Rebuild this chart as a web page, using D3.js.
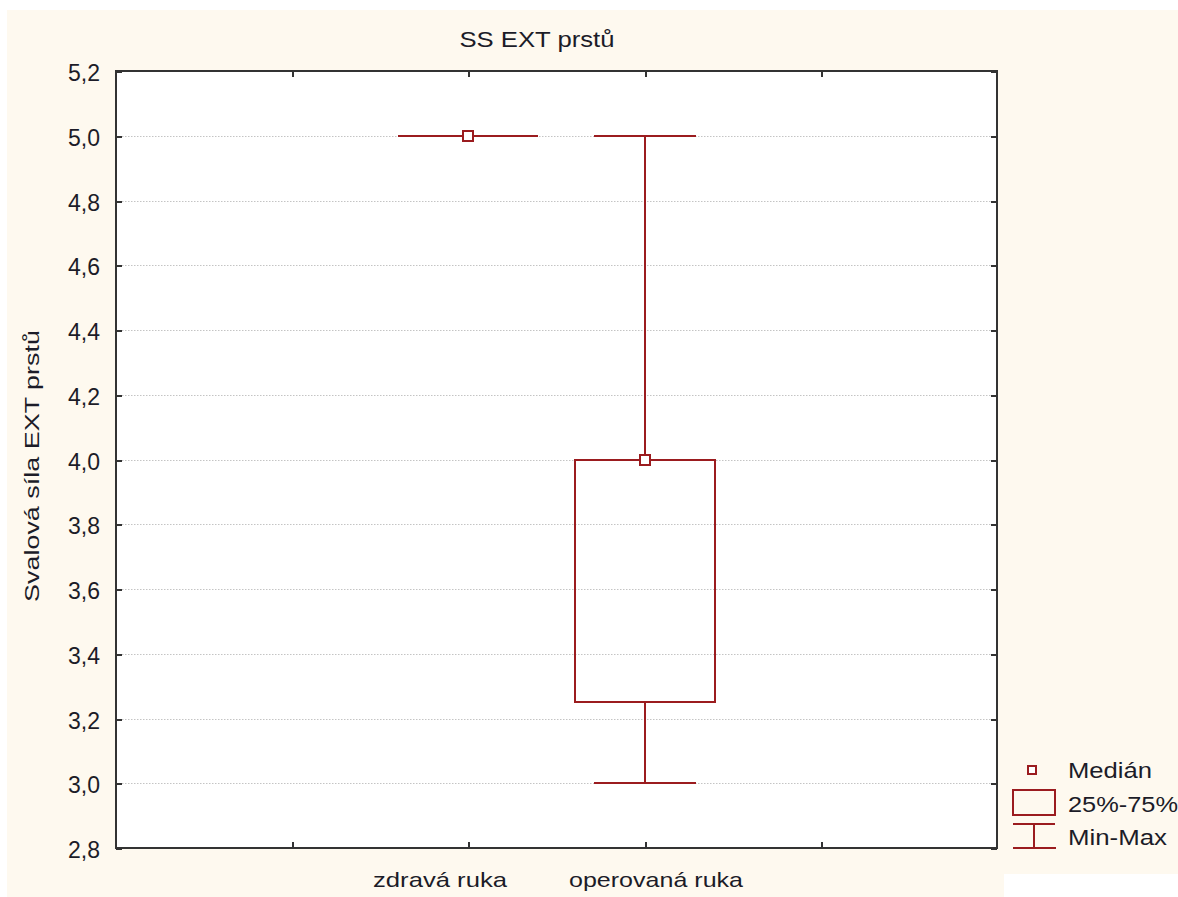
<!DOCTYPE html>
<html><head><meta charset="utf-8">
<script src="https://cdn.jsdelivr.net/npm/d3@7"></script>
<style>body{margin:0;background:#fff}svg{display:block}text{font-family:"Liberation Sans",Arial,sans-serif;fill:#1c1c28}</style>
</head><body>
<script>
// Data
const categories = ["zdravá ruka", "operovaná ruka"];
const minVals    = [5.0, 3.0];
const q1Vals     = [5.0, 3.25];
const medianVals = [5.0, 4.0];
const q3Vals     = [5.0, 4.0];
const maxVals    = [5.0, 5.0];
const yTicks = [2.8, 3.0, 3.2, 3.4, 3.6, 3.8, 4.0, 4.2, 4.4, 4.6, 4.8, 5.0, 5.2];
const title = "SS EXT prstů";
const yTitle = "Svalová síla EXT prstů";
const legendLabels = ["Medián", "25%-75%", "Min-Max"];

// Layout
const W = 1178, H = 897;
const L = 116, R = 997, T = 71, B = 848;
const red = "#9b1c1f";
const catPos = [2, 3];
const labelDx = [-28, 11];
const labelLen = [134, 174];

const svg = d3.select("body").append("svg").attr("width", W).attr("height", H);
svg.append("rect").attr("x", 7).attr("y", 10).attr("width", W - 7).attr("height", H - 10).attr("fill", "#fef9ef");
svg.append("rect").attr("x", 1004).attr("y", 874).attr("width", W - 1004).attr("height", H - 874).attr("fill", "#fff");

const x = d3.scaleLinear().domain([0, 5]).rangeRound([L, R]);
const y = d3.scaleLinear().domain([2.8, 5.2]).rangeRound([B, T]);

svg.append("rect").attr("x", L).attr("y", T).attr("width", R - L).attr("height", B - T).attr("fill", "#fff");

// grid
svg.append("g").selectAll("line").data(yTicks.filter(v => v > 2.8 && v < 5.2)).join("line")
  .attr("x1", L).attr("x2", R).attr("y1", d => y(d) + 0.5).attr("y2", d => y(d) + 0.5)
  .attr("stroke", "#c4c4c4").attr("stroke-width", 1).attr("stroke-dasharray", "1.5,1.5");

const fmt = d => d3.format(".1f")(d).replace(".", ",");
// axes
const gL = svg.append("g").attr("transform", `translate(${L},0)`)
  .call(d3.axisRight(y).tickValues(yTicks).tickSize(6).tickFormat(""));
const gR = svg.append("g").attr("transform", `translate(${R},0)`)
  .call(d3.axisLeft(y).tickValues(yTicks).tickSize(6).tickFormat(""));
const gB = svg.append("g").attr("transform", `translate(0,${B})`)
  .call(d3.axisTop(x).tickValues([1, 2, 3, 4]).tickSize(6).tickFormat(""));
const gT = svg.append("g").attr("transform", `translate(0,${T})`)
  .call(d3.axisBottom(x).tickValues([1, 2, 3, 4]).tickSize(6).tickFormat(""));
[gL, gR, gB, gT].forEach(g => {
  g.select(".domain").remove();
  g.selectAll(".tick").attr("transform", function() {
    const t = d3.select(this).attr("transform");
    return t.replace(/translate\(([-\d.]+),([-\d.]+)\)/, (m, a, b) => `translate(${Math.round(+a)},${Math.round(+b)})`);
  });
  g.selectAll(".tick line").attr("stroke", "#333").attr("stroke-width", 2);
});
svg.append("rect").attr("x", L).attr("y", T).attr("width", R - L).attr("height", B - T)
  .attr("fill", "none").attr("stroke", "#333").attr("stroke-width", 2);

// y tick labels
svg.append("g").selectAll("text").data(yTicks).join("text")
  .attr("x", 100).attr("y", d => y(d) + 10).attr("text-anchor", "end")
  .attr("font-size", 23).text(fmt);

// boxes
const boxHalf = 70, capHalf = 51;
const g = svg.append("g").attr("fill", "none").attr("stroke", red).attr("stroke-width", 2);
categories.forEach((c, i) => {
  const cx = x(catPos[i]);
  // whisker vertical lines
  g.append("line").attr("x1", cx).attr("x2", cx).attr("y1", y(maxVals[i])).attr("y2", y(q3Vals[i]));
  g.append("line").attr("x1", cx).attr("x2", cx).attr("y1", y(q1Vals[i])).attr("y2", y(minVals[i]));
  // caps
  g.append("line").attr("x1", cx - capHalf).attr("x2", cx + capHalf).attr("y1", y(maxVals[i])).attr("y2", y(maxVals[i]));
  g.append("line").attr("x1", cx - capHalf).attr("x2", cx + capHalf).attr("y1", y(minVals[i])).attr("y2", y(minVals[i]));
  // box
  if (q3Vals[i] === q1Vals[i]) {
    g.append("line").attr("x1", cx - boxHalf).attr("x2", cx + boxHalf).attr("y1", y(q3Vals[i])).attr("y2", y(q3Vals[i]));
  } else {
    g.append("rect").attr("x", cx - boxHalf).attr("y", y(q3Vals[i])).attr("width", 2 * boxHalf).attr("height", y(q1Vals[i]) - y(q3Vals[i]));
  }
  // median
  g.append("rect").attr("x", cx - 5).attr("y", y(medianVals[i]) - 5).attr("width", 10).attr("height", 10).attr("fill", "#fff");
  // label
  svg.append("text").attr("x", cx + labelDx[i]).attr("y", 887).attr("text-anchor", "middle")
    .attr("font-size", 21).attr("textLength", labelLen[i]).attr("lengthAdjust", "spacingAndGlyphs").text(c);
});

// title
svg.append("text").attr("x", 537).attr("y", 47).attr("text-anchor", "middle").attr("font-size", 22)
  .attr("textLength", 155).attr("lengthAdjust", "spacingAndGlyphs").text(title);
// y title
svg.append("text").attr("transform", "translate(39,466) rotate(-90)").attr("text-anchor", "middle")
  .attr("font-size", 21).attr("textLength", 272).attr("lengthAdjust", "spacingAndGlyphs").text(yTitle);

// legend
const lg = svg.append("g").attr("fill", "none").attr("stroke", red).attr("stroke-width", 2);
lg.append("rect").attr("x", 1028).attr("y", 766).attr("width", 8).attr("height", 8).attr("fill", "#fff");
lg.append("rect").attr("x", 1013).attr("y", 790).attr("width", 42).attr("height", 25);
lg.append("line").attr("x1", 1013).attr("x2", 1055).attr("y1", 824).attr("y2", 824);
lg.append("line").attr("x1", 1013).attr("x2", 1056).attr("y1", 848).attr("y2", 848);
lg.append("line").attr("x1", 1034).attr("x2", 1034).attr("y1", 824).attr("y2", 848);
const legY = [778, 812, 845];
const legLen = [84, 110, 99];
svg.append("g").selectAll("text").data(legendLabels).join("text")
  .attr("x", 1068).attr("y", (d, i) => legY[i]).attr("font-size", 22)
  .attr("textLength", (d, i) => legLen[i]).attr("lengthAdjust", "spacingAndGlyphs").text(d => d);
</script>
</body></html>
